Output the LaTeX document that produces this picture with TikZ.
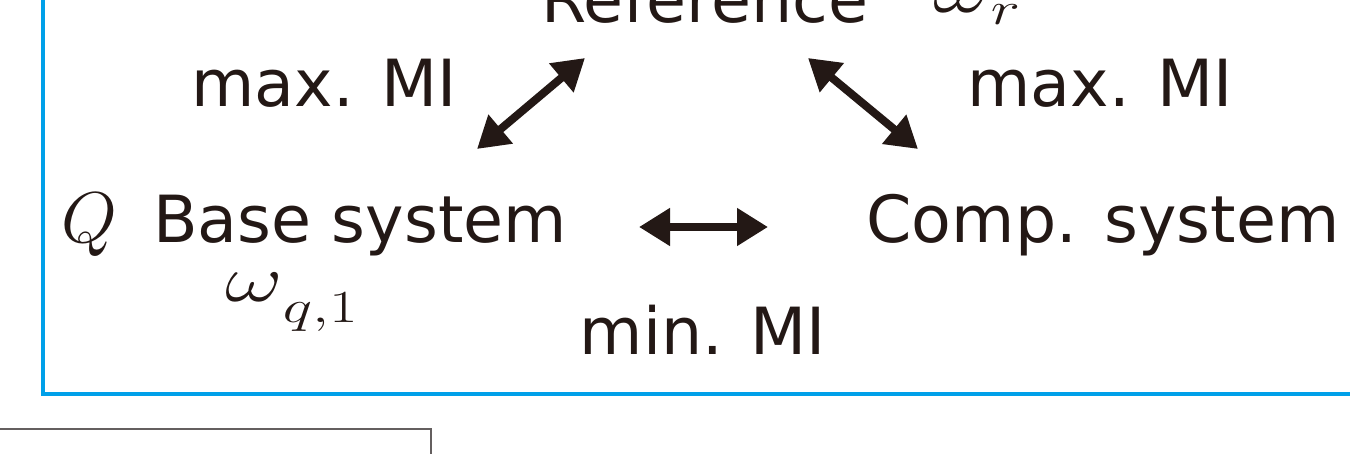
\RequirePackage{fix-cm}
\documentclass[tikz,border=0pt]{standalone}
\usepackage{fontspec}
\usepackage{graphicx}
\setmainfont{DejaVu Sans}
\usetikzlibrary{arrows.meta}
\definecolor{frameblue}{RGB}{0,160,233}
\definecolor{framegray}{RGB}{100,95,95}
\definecolor{ink}{RGB}{35,24,21}
\tikzset{
  lbl/.style={anchor=base, inner sep=0pt, text=ink, font=\fontsize{32.5}{39}\selectfont},
  mth/.style={anchor=base west, inner sep=0pt, text=ink},
  dbl/.style={draw=ink, line width=4pt,
    {Triangle[length=15.5pt,width=18pt]}-{Triangle[length=15.5pt,width=18pt]}},
}
\newcommand{\omegaterm}[2]{\scalebox{1.35}[1]{\fontsize{33}{40}\selectfont$\omega$\raisebox{-#2}{\fontsize{23}{28}\selectfont$#1$}}}
\begin{document}
\begin{tikzpicture}[x=0.5pt,y=-0.5pt]
\useasboundingbox (0,0) rectangle (1350,454);
\clip (0,0) rectangle (1350,454);
% frames
\draw[frameblue, line width=1.7pt] (43,-30) rectangle (1400,394);
\draw[framegray, line width=0.7pt] (-30,429) rectangle (431,500);
% texts
\node[lbl] (ref) at (705,23) {Reference};
\node[mth] (wr) at (933,13) {\omegaterm{r}{6pt}};
\node[lbl] (mmL) at (324,107) {max. MI};
\node[lbl] (mmR) at (1100,107) {max. MI};
\node[mth, font=\fontsize{36}{43}\selectfont] (Q) at (61,243) {$Q$};
\node[lbl] (base) at (360,243) {Base system};
\node[lbl] (comp) at (1103,243) {Comp. system};
\node[mth] (wq) at (225,302) {\omegaterm{q{,}1}{10.5pt}};
\node[lbl] (minmi) at (703,355) {min. MI};
% arrow ends
\coordinate (aLb) at (477,149);
\coordinate (aLt) at (585,58);
\coordinate (aRt) at (808,58);
\coordinate (aRb) at (918,149);
\coordinate (aHl) at (639,227);
\coordinate (aHr) at (768,227);
\draw[dbl] (aLb) -- (aLt);
\draw[dbl] (aRt) -- (aRb);
\draw[dbl] (aHl) -- (aHr);
\end{tikzpicture}
\end{document}
